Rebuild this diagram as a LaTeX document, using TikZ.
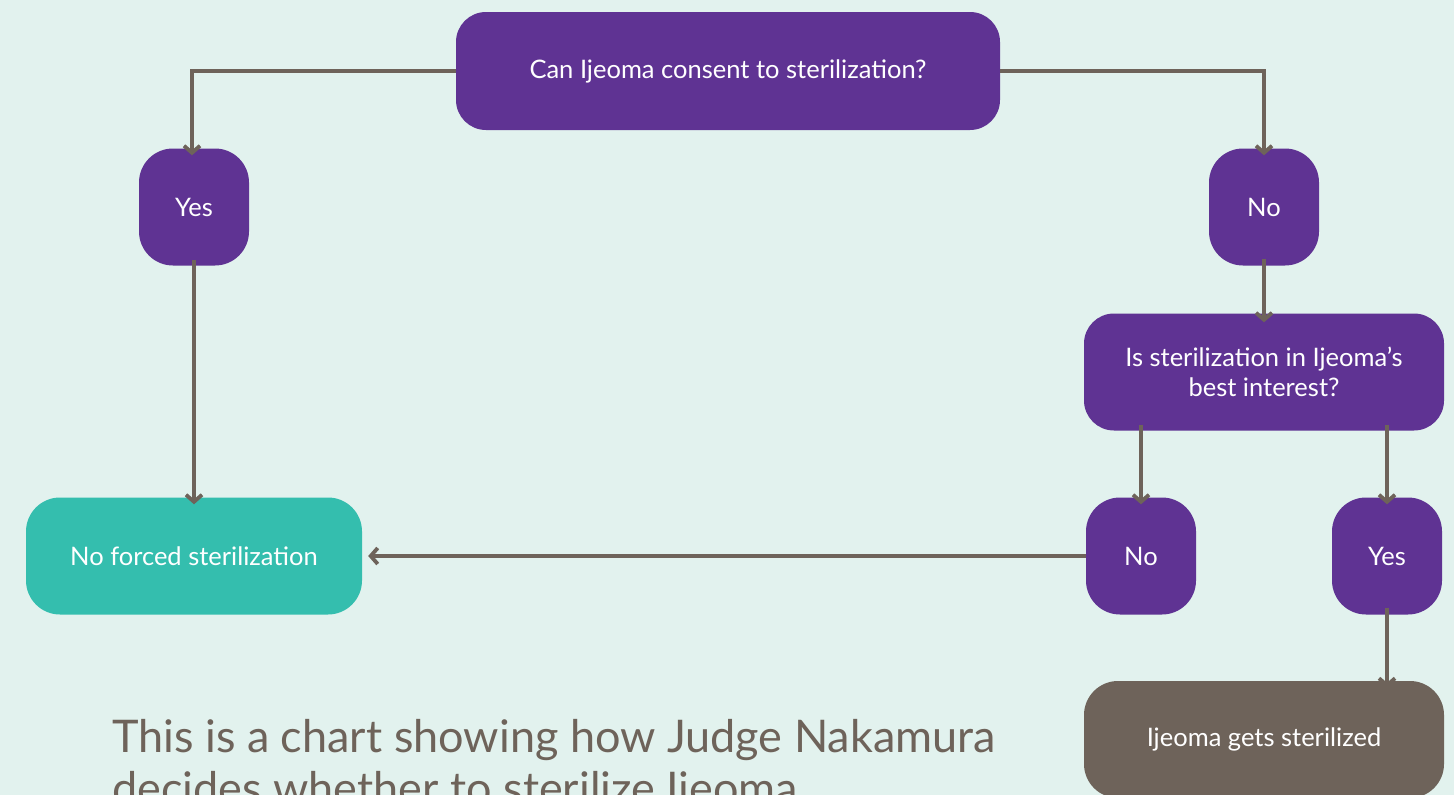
\documentclass[tikz,border=0pt]{standalone}
\usepackage{fontspec}
\setmainfont{Lato}
\usetikzlibrary{arrows.meta}
\definecolor{bg}{HTML}{E2F2EE}
\definecolor{pur}{HTML}{5F3393}
\definecolor{teal2}{HTML}{34BEAE}
\definecolor{brn}{HTML}{6E635A}
\tikzset{
  box/.style={fill=pur, text=white, rounded corners=#1, inner sep=0pt, align=center, font=\fontsize{25.5}{30}\selectfont},
  box/.default=32pt,
  conn/.style={draw=brn, line width=3.8pt, -{Straight Barb[length=7pt,width=16pt]}}
}
\begin{document}
\begin{tikzpicture}[x=1pt,y=-1pt]
\fill[bg] (0,0) rectangle (1454,795);
\useasboundingbox (0,0) rectangle (1454,795);
\clip (0,0) rectangle (1454,795);

\node[box=30pt, minimum width=544pt, minimum height=118pt] (q1) at (728,71) {Can Ijeoma consent to sterilization?};
\node[box=34pt, minimum width=110pt, minimum height=117pt] (yes1) at (194,207) {Yes};
\node[box=34pt, minimum width=110pt, minimum height=117pt] (no1) at (1264,207) {No};
\node[box=30pt, minimum width=360pt, minimum height=117pt] (q2) at (1264,372) {Is sterilization in Ijeoma’s\\best interest?};
\node[box=34pt, minimum width=110pt, minimum height=117pt] (no2) at (1141,556) {No};
\node[box=34pt, minimum width=110pt, minimum height=117pt] (yes2) at (1387,556) {Yes};
\node[box=34pt, fill=teal2, minimum width=336pt, minimum height=117pt] (nf) at (194,556) {No forced sterilization};
\node[box=34pt, fill=brn, minimum width=360pt, minimum height=117pt] (gs) at (1264,739.5) {Ijeoma gets sterilized};

\node[anchor=base west, inner sep=0pt, text=brn, align=left, font=\fontsize{45}{52}\selectfont] (cap) at (112,804) {This is a chart showing how Judge Nakamura\\decides whether to sterilize Ijeoma.};

\coordinate (c1) at (192,71);
\coordinate (c2) at (1264,71);
\draw[conn] (q1.west) -- (c1) -- ([yshift=-7pt]yes1.north -| c1);
\draw[conn] (q1.east) -- (c2) -- ([yshift=-7pt]no1.north);
\draw[conn] ([yshift=7pt]no1.south) -- ([yshift=-9pt]q2.north);
\draw[conn] ([yshift=6pt]yes1.south) -- ([yshift=-7pt]nf.north);
\draw[conn] ([yshift=6pt]q2.south -| no2.north) -- ([yshift=-7pt]no2.north);
\draw[conn] ([yshift=6pt]q2.south -| yes2.north) -- ([yshift=-7pt]yes2.north);
\draw[conn] ([yshift=7pt]yes2.south) -- ([yshift=-7pt]gs.north -| yes2.north);
\draw[conn] (no2.west) -- ([xshift=6pt]nf.east);
\end{tikzpicture}
\end{document}
